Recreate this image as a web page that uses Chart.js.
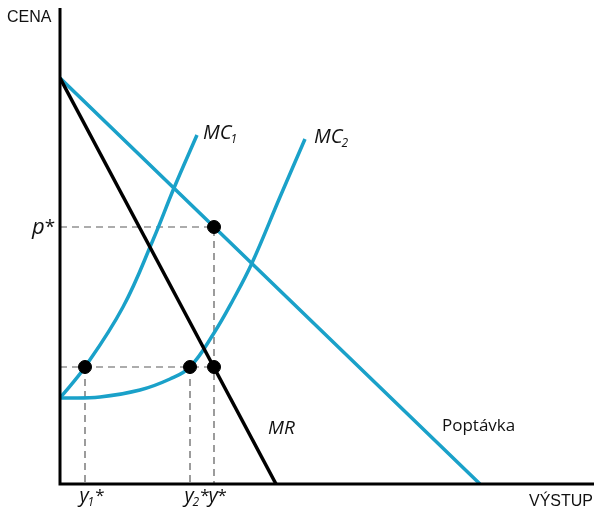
<!DOCTYPE html>
<html>
<head>
<meta charset="utf-8">
<script src="https://cdn.jsdelivr.net/npm/chart.js@4.4.1/dist/chart.umd.min.js"></script>
<style>
html, body { margin: 0; padding: 0; background: #fff; }
#wrap { width: 594px; height: 511px; }
</style>
</head>
<body>
<div id="wrap"><canvas id="chart"></canvas></div>
<script>
// curves (output on x, price on y)
var demandX = [0, 42];
var demandY = [40.6, 0];
var mrX = [0, 21.6];
var mrY = [40.6, 0];
var mc1X = [0, 2.5, 6.3, 9.3, 11.4, 13.7];
var mc1Y = [8.6, 11.7, 17.7, 24.4, 29.6, 34.9];
var mc2X = [0, 4, 8, 11, 13, 15.4, 17.3, 19.2, 22, 24.5];
var mc2Y = [8.6, 8.7, 9.4, 10.5, 11.7, 15.1, 18.4, 22.1, 28.7, 34.5];

// equilibrium values
var pStar = 25.7;
var mcLevel = 11.7;
var y1Star = 2.5;
var y2Star = 13.0;
var yStar = 15.4;

// tick labels
var xTickValues = [y1Star, y2Star, yStar];
var xTickText = ['y', 'y', 'y'];
var xTickSub = ['1', '2', ''];

var BLUE = '#1aa1c9';
var FACE = '"Open Sans"';

function pts(xs, ys) {
    return xs.map(function (x, i) { return { x: x, y: ys[i] }; });
}

function dashed(data) {
    return {
        data: data,
        showLine: true,
        borderColor: '#5a5a5a',
        borderWidth: 1.2,
        borderDash: [7, 5],
        pointRadius: 0
    };
}

function curve(xs, ys, color) {
    return {
        data: pts(xs, ys),
        showLine: true,
        borderColor: color,
        borderWidth: 3.5,
        pointRadius: 0,
        tension: 0.4
    };
}

// italic text with a subscript and optional star
function subText(ctx, main, sub, star, x, y, size) {
    var big = 'italic ' + size + 'px ' + FACE;
    var small = 'italic ' + Math.round(size * 0.6) + 'px ' + FACE;
    ctx.font = big;
    var w1 = ctx.measureText(main).width;
    ctx.fillText(main, x, y);
    var w2 = 0;
    if (sub) {
        ctx.font = small;
        w2 = ctx.measureText(sub).width;
        ctx.fillText(sub, x + w1 - 1, y + 4);
    }
    if (star) {
        ctx.font = Math.round(size * 0.85) + 'px ' + FACE;
        ctx.fillText('*', x + w1 + w2, y - 1);
    }
}

var annotations = {
    id: 'annotations',
    afterDraw: function (chart) {
        var ctx = chart.ctx;
        var xs = chart.scales.x;
        var ys = chart.scales.y;
        var area = chart.chartArea;

        ctx.save();
        // axes
        ctx.strokeStyle = '#000';
        ctx.lineWidth = 3;
        ctx.beginPath();
        ctx.moveTo(area.left, area.top);
        ctx.lineTo(area.left, area.bottom);
        ctx.lineTo(chart.width, area.bottom);
        ctx.stroke();

        ctx.fillStyle = '#111';
        ctx.textBaseline = 'alphabetic';
        ctx.textAlign = 'left';

        // axis titles
        ctx.font = '16px "Liberation Sans"';
        ctx.fillText('CENA', 7, 22);
        ctx.textAlign = 'right';
        ctx.fillText('VÝSTUP', 593, 506);

        // p* on the price axis
        ctx.textAlign = 'left';
        subText(ctx, 'p', '', true, 32, ys.getPixelForValue(pStar) + 7, 22);

        // quantities on the output axis, the y glyph centred on its value
        ctx.font = 'italic 20px ' + FACE;
        var yw = ctx.measureText('y').width;
        xTickValues.forEach(function (v, i) {
            subText(ctx, xTickText[i], xTickSub[i], true, xs.getPixelForValue(v) - yw / 2 - 1, 502, 20);
        });

        // curve labels
        var mc1End = mc1X.length - 1;
        subText(ctx, 'MC', '1', false,
            xs.getPixelForValue(mc1X[mc1End]) + 6, ys.getPixelForValue(mc1Y[mc1End]) + 4, 20);
        var mc2End = mc2X.length - 1;
        subText(ctx, 'MC', '2', false,
            xs.getPixelForValue(mc2X[mc2End]) + 9, ys.getPixelForValue(mc2Y[mc2End]) + 4, 20);

        ctx.font = 'italic 19px ' + FACE;
        ctx.fillText('MR', xs.getPixelForValue(20.8), ys.getPixelForValue(5.0));

        ctx.font = '17px "Open Sans"';
        ctx.fillText('Poptávka', xs.getPixelForValue(38.2), ys.getPixelForValue(5.3));
        ctx.restore();
    }
};

var ctx = document.getElementById('chart').getContext('2d');

var chart = new Chart(ctx, {
    type: 'scatter',
    data: {
        datasets: [
            {
                data: [
                    { x: y1Star, y: mcLevel },
                    { x: y2Star, y: mcLevel },
                    { x: yStar, y: mcLevel },
                    { x: yStar, y: pStar }
                ],
                pointRadius: 6.5,
                pointBackgroundColor: '#000',
                pointBorderColor: '#000',
                showLine: false
            },
            curve(mrX, mrY, '#000'),
            curve(demandX, demandY, BLUE),
            curve(mc1X, mc1Y, BLUE),
            curve(mc2X, mc2Y, BLUE),
            dashed([{ x: 0, y: pStar }, { x: yStar, y: pStar }, { x: yStar, y: 0 }]),
            dashed([{ x: 0, y: mcLevel }, { x: yStar, y: mcLevel }]),
            dashed([{ x: y1Star, y: mcLevel }, { x: y1Star, y: 0 }]),
            dashed([{ x: y2Star, y: mcLevel }, { x: y2Star, y: 0 }])
        ]
    },
    options: {
        responsive: true,
        maintainAspectRatio: false,
        animation: false,
        layout: {
            autoPadding: false,
            padding: { left: 60, right: 0, top: 8, bottom: 27 }
        },
        scales: {
            x: { type: 'linear', min: 0, max: 53.4, display: false },
            y: { type: 'linear', min: 0, max: 47.6, display: false }
        },
        plugins: {
            legend: { display: false },
            tooltip: { enabled: false }
        }
    },
    plugins: [annotations]
});
</script>
</body>
</html>
